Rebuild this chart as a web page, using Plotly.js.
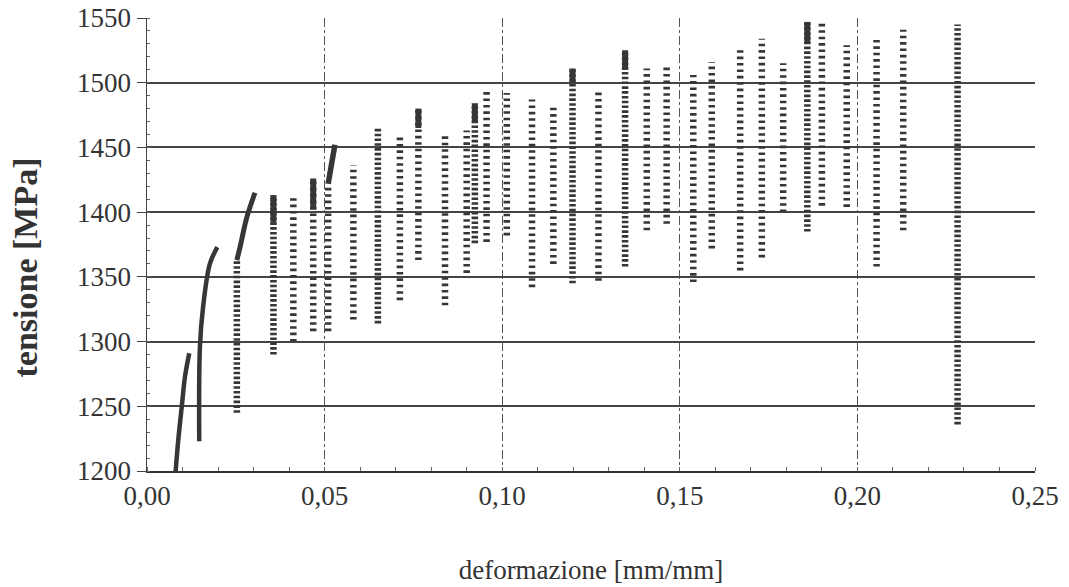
<!DOCTYPE html>
<html>
<head>
<meta charset="utf-8">
<script src="https://cdn.plot.ly/plotly-3.0.1.min.js"></script>
<style>html,body{margin:0;padding:0;background:#fff;}#chart{width:1069px;height:587px;}</style>
</head>
<body>
<div id="chart"></div>
<script>
// ---- data ----
// first two monotonic loading curves (solid)
const curveA_strain = [0.0079, 0.0088, 0.0098, 0.0107, 0.0119];
const curveA_stress = [1194, 1224, 1250, 1273, 1291];
const curveB_strain = [0.0147, 0.0149, 0.0158, 0.0177, 0.0198];
const curveB_stress = [1223, 1296, 1327, 1360, 1373];
// continuation of third curve above its dashed column
const curveC_strain = [0.0253, 0.0262, 0.0281, 0.0304];
const curveC_stress = [1363, 1373, 1396, 1415];
// slanted solid top of column at ~0.051
const curveD_strain = [0.0510, 0.0529];
const curveD_stress = [1422, 1452];

// cyclic columns: strain of the column, lowest and highest stress
const colStrain = [0.0253, 0.0356, 0.0412, 0.0468, 0.0510, 0.0581, 0.0650, 0.0712, 0.0764, 0.0839,
                   0.0900, 0.0923, 0.0956, 0.1013, 0.1084, 0.1144, 0.1198, 0.1271, 0.1346, 0.1407,
                   0.1463, 0.1538, 0.1590, 0.1670, 0.1731, 0.1791, 0.1859, 0.1900, 0.1970, 0.2054,
                   0.2129, 0.2282];
const colBottom = [1245, 1290, 1300, 1308, 1308, 1317, 1314, 1332, 1363, 1328,
                   1353, 1376, 1377, 1382, 1342, 1360, 1345, 1347, 1358, 1386,
                   1391, 1346, 1372, 1355, 1365, 1400, 1385, 1405, 1404, 1358,
                   1386, 1236];
const colTop    = [1363, 1413, 1411, 1426, 1422, 1436, 1465, 1458, 1480, 1460,
                   1463, 1484, 1493, 1492, 1487, 1483, 1511, 1493, 1525, 1511,
                   1512, 1506, 1516, 1525, 1534, 1515, 1547, 1546, 1529, 1535,
                   1541, 1545];
// dense caps at the top of some columns
const capStrain = [0.0356, 0.0468, 0.0764, 0.0923, 0.1198, 0.1346, 0.1859];
const capLow    = [1392, 1402, 1465, 1470, 1500, 1510, 1530];
const capHigh   = [1413, 1426, 1480, 1484, 1511, 1525, 1547];

const xTicks = [0, 0.05, 0.10, 0.15, 0.20, 0.25];
const yTicks = [1200, 1250, 1300, 1350, 1400, 1450, 1500, 1550];

// ---- build traces ----
const ink = '#363636';
const dense = new Set([0.0253, 0.0356, 0.0650, 0.0923, 0.1198, 0.1346, 0.1859, 0.2282]);
const traces = [];
function solid(xs, ys, w){
  traces.push({x: xs, y: ys, type: 'scatter', mode: 'lines', line: {color: ink, width: w, shape: 'spline'}, hoverinfo: 'skip'});
}
solid(curveA_strain, curveA_stress, 4.5);
solid(curveB_strain, curveB_stress, 4.5);
solid(curveC_strain, curveC_stress, 5);
solid(curveD_strain, curveD_stress, 5.5);

colStrain.forEach((s, i) => {
  const isDense = dense.has(s);
  traces.push({
    x: [s, s], y: [colBottom[i], colTop[i]],
    type: 'scatter', mode: 'lines',
    line: {color: ink, width: 6.5, dash: isDense ? '2.6px,2.2px' : '2.6px,3.8px'},
    hoverinfo: 'skip'
  });
});
capStrain.forEach((s, i) => {
  traces.push({x: [s, s], y: [capLow[i], capHigh[i]], type: 'scatter', mode: 'lines',
    line: {color: ink, width: 6}, hoverinfo: 'skip'});
});

const tickFont = {family: '"Liberation Serif", "DejaVu Serif", serif', size: 27, color: '#333'};
const layout = {
  width: 1069, height: 587,
  margin: {l: 147, r: 34, t: 18, b: 116},
  paper_bgcolor: '#ffffff', plot_bgcolor: '#ffffff',
  showlegend: false,
  separators: ',.',
  xaxis: {
    range: [0, 0.25], tickvals: xTicks, tickformat: '.2f',
    tickfont: tickFont,
    showgrid: true, gridcolor: '#555', gridwidth: 1, griddash: 'dashdot',
    zeroline: false, showline: true, linecolor: '#333', linewidth: 2,
    ticks: 'outside', ticklen: 0, tickcolor: '#444',
    minor: {dtick: 0.01, ticks: 'inside', ticklen: 4, tickcolor: '#666', showgrid: false},
    title: {text: 'deformazione [mm/mm]', font: {family: '"Liberation Serif", serif', size: 27, color: '#333'}, standoff: 50},
    fixedrange: true
  },
  yaxis: {
    range: [1200, 1550], tickvals: yTicks, tickformat: 'd',
    tickfont: tickFont,
    showgrid: true, gridcolor: '#444', gridwidth: 2,
    zeroline: false, showline: true, linecolor: '#444', linewidth: 1.5,
    ticks: 'outside', ticklen: 9, tickcolor: '#444',
    minor: {dtick: 10, ticks: 'inside', ticklen: 3, tickcolor: '#666', showgrid: false},
    fixedrange: true
  },
  annotations: [{
    text: '<b>tensione [MPa]</b>', xref: 'paper', yref: 'paper',
    x: -0.137, y: 0.45, xanchor: 'center', yanchor: 'middle', textangle: -90, showarrow: false,
    font: {family: '"Liberation Serif", serif', size: 34, color: '#333'}
  }]
};
Plotly.newPlot('chart', traces, layout, {staticPlot: true, displayModeBar: false});
</script>
</body>
</html>
